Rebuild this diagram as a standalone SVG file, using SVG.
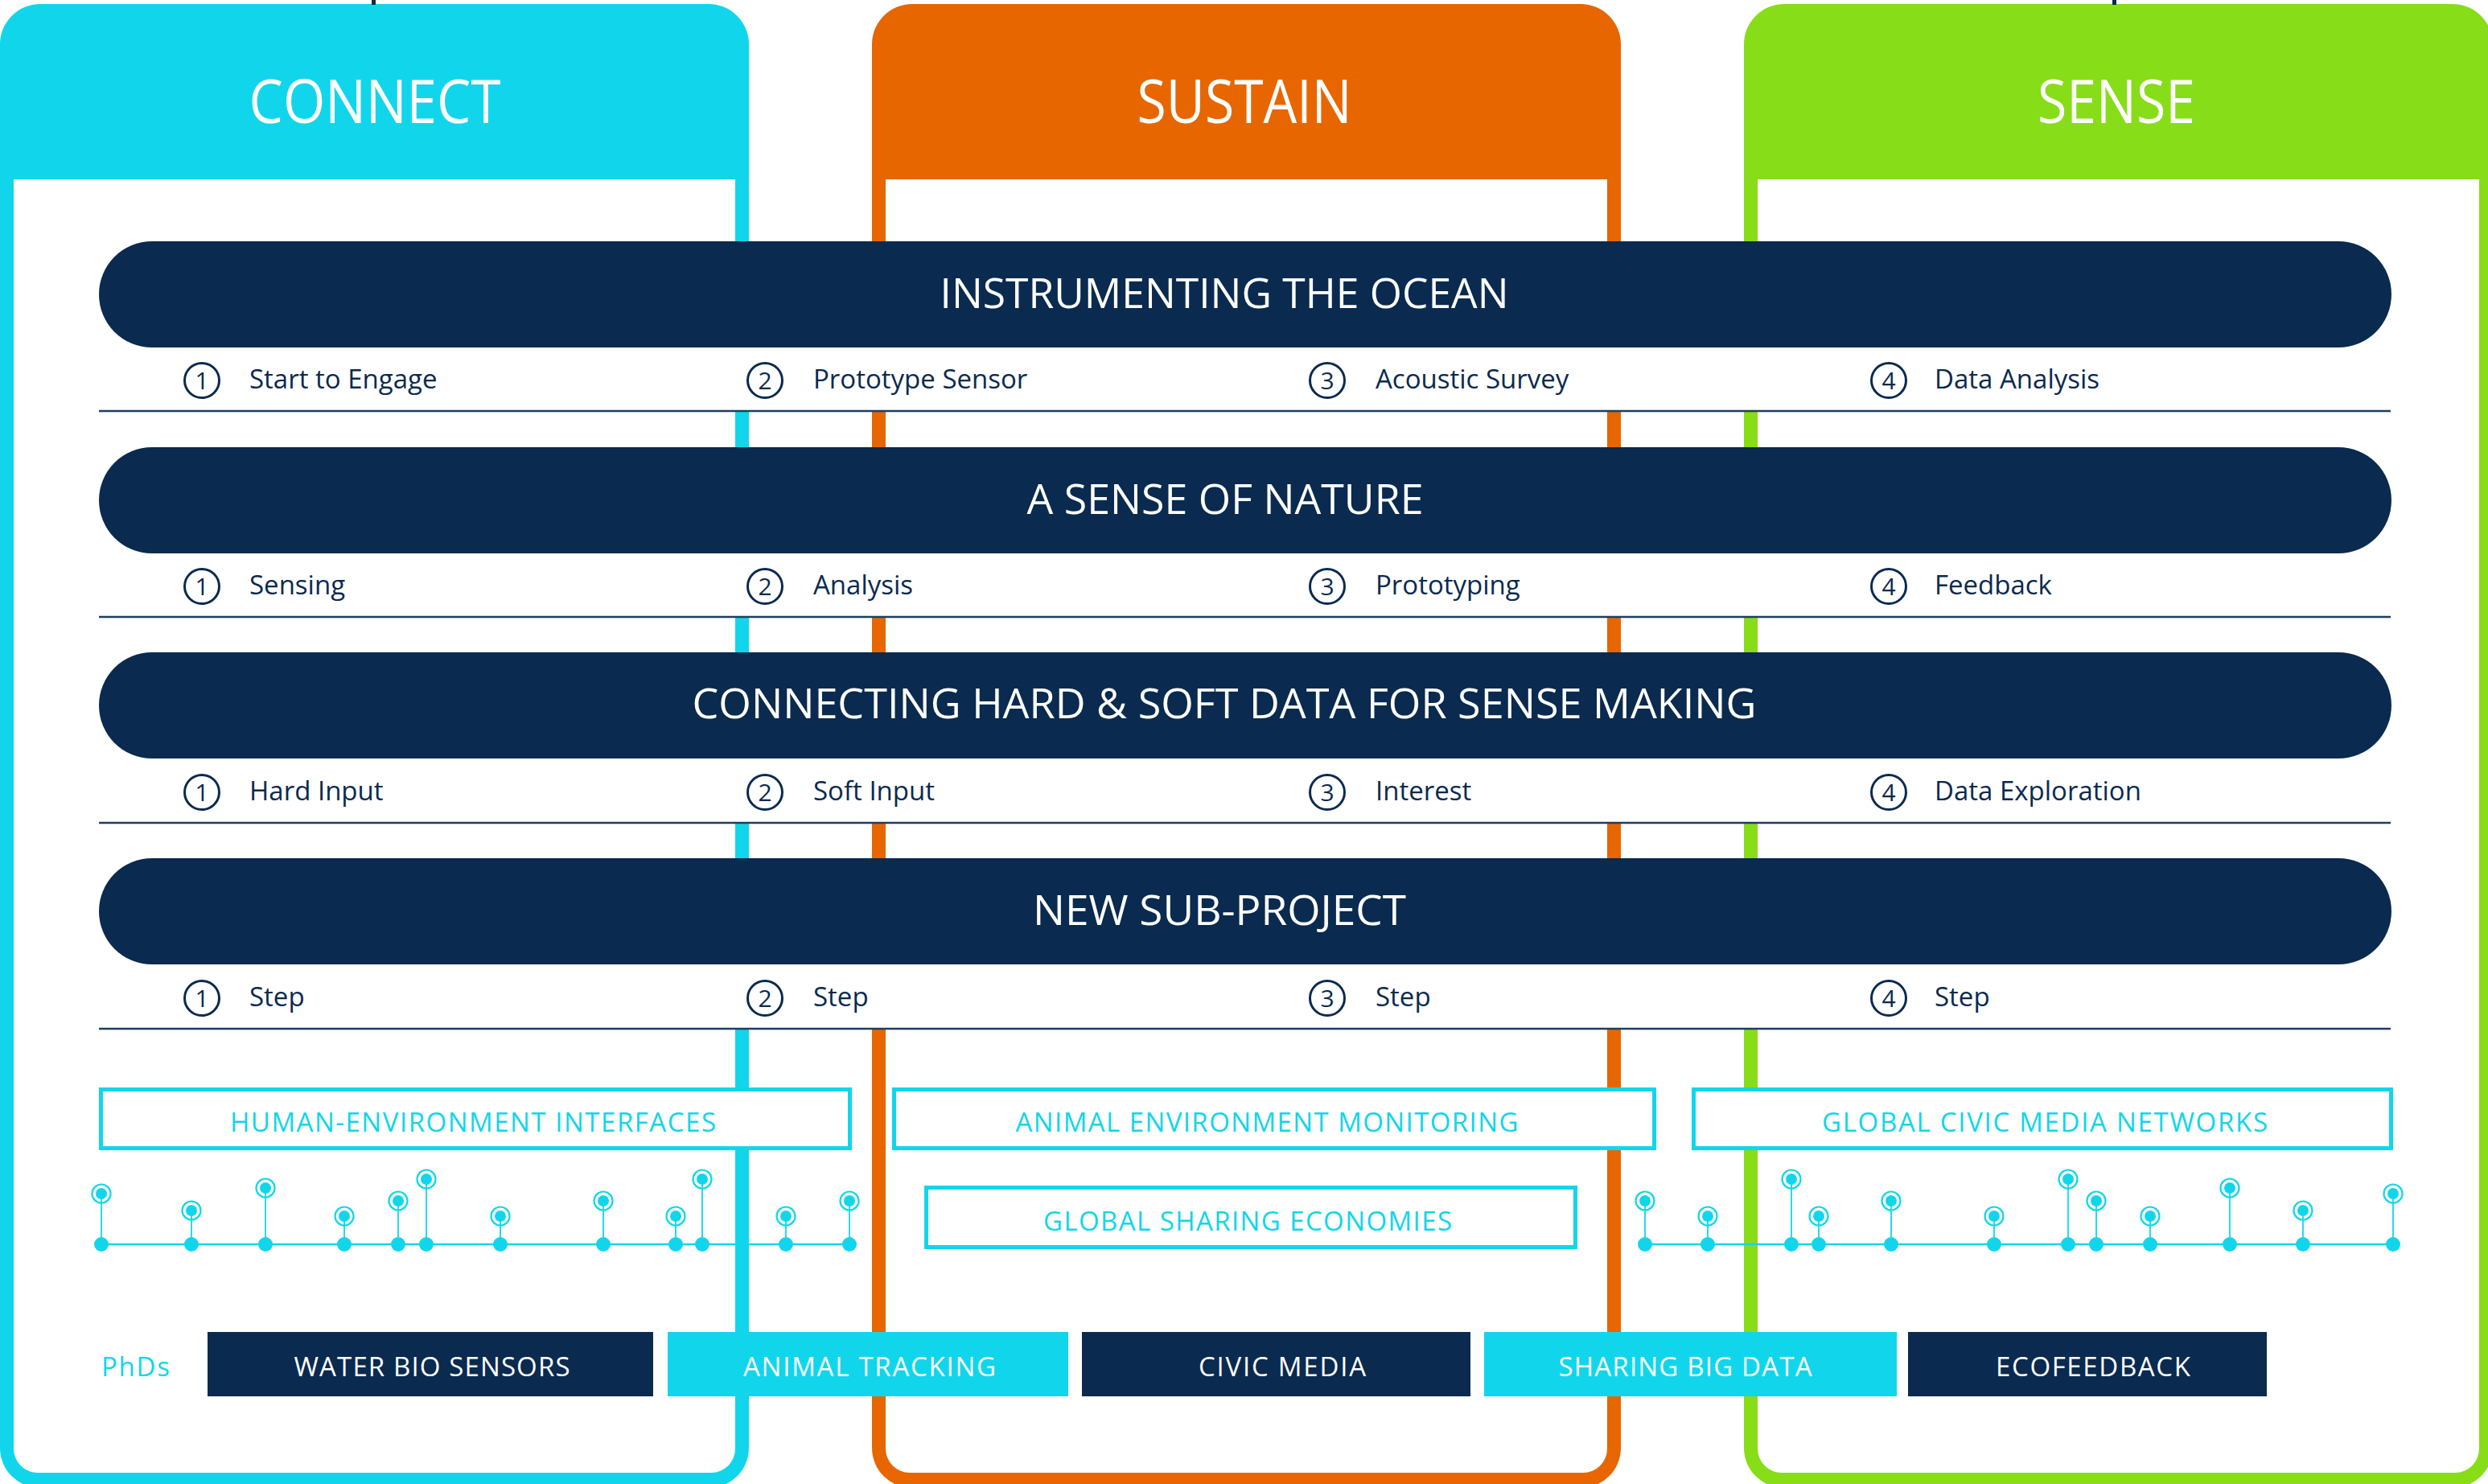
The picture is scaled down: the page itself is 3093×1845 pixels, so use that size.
<svg xmlns="http://www.w3.org/2000/svg" width="3093" height="1845" viewBox="0 0 3093 1845">
<style>
.cyan{fill:#11D6EB}
.orange{fill:#E76600}
.green{fill:#87DD17}
.navy{fill:#0A2A4F}
.white{fill:#FFFFFF}
.hdr{font-family:"Open Sans","Noto Sans",sans-serif;font-size:75px;fill:#FFFFFF;text-anchor:middle}
.pill-t{font-family:"Open Sans","Noto Sans",sans-serif;font-size:52px;fill:#FFFFFF;text-anchor:middle}
.step{font-family:"Open Sans","Noto Sans",sans-serif;font-size:33px;fill:#0A2A4F}
.num{font-family:"Open Sans","Noto Sans",sans-serif;font-size:30px;fill:#0A2A4F;text-anchor:middle}
.ring{fill:none;stroke:#0A2A4F;stroke-width:3}
.uline{stroke:#1E3D60;stroke-width:2.5}
.obox{fill:#FFFFFF;stroke:#11D6EB;stroke-width:5}
.obox-t{font-family:"Open Sans","Noto Sans",sans-serif;font-size:33px;fill:#11D6EB;text-anchor:middle}
.phd-t{font-family:"Open Sans","Noto Sans",sans-serif;font-size:33px;fill:#FFFFFF;text-anchor:middle}
.tl{stroke:#11D6EB;stroke-width:2.5}
.stem{stroke:#11D6EB;stroke-width:1.8}
.dot{fill:#11D6EB}
.tring{fill:none;stroke:#11D6EB;stroke-width:2.2}
</style>

<!-- Columns -->
<g id="col-connect">
  <rect class="cyan" x="0" y="5" width="931" height="1845" rx="50"/>
  <path class="white" d="M17,223 H914 V1801 A30,30 0 0 1 884,1831 H47 A30,30 0 0 1 17,1801 Z"/>
  <text class="hdr" x="466" y="153" textLength="313" lengthAdjust="spacingAndGlyphs">CONNECT</text>
  <rect class="navy" x="462" y="0" width="5" height="6"/>
</g>
<g id="col-sustain">
  <rect class="orange" x="1084" y="5" width="931" height="1845" rx="50"/>
  <path class="white" d="M1101,223 H1998 V1801 A30,30 0 0 1 1968,1831 H1131 A30,30 0 0 1 1101,1801 Z"/>
  <text class="hdr" x="1547" y="153" textLength="267" lengthAdjust="spacingAndGlyphs">SUSTAIN</text>
</g>
<g id="col-sense">
  <rect class="green" x="2168" y="5" width="931" height="1845" rx="50"/>
  <path class="white" d="M2185,223 H3082 V1801 A30,30 0 0 1 3052,1831 H2215 A30,30 0 0 1 2185,1801 Z"/>
  <text class="hdr" x="2631" y="153" textLength="196" lengthAdjust="spacingAndGlyphs">SENSE</text>
  <rect class="navy" x="2626" y="0" width="5" height="6"/>
</g>

<!-- Row 1 -->
<g id="row-instrumenting">
  <rect class="white" x="123" y="366" width="2850" height="145"/>
  <rect class="navy" x="123" y="300" width="2850" height="132" rx="66"/>
  <text class="pill-t" x="1522" y="383" textLength="707" lengthAdjust="spacingAndGlyphs">INSTRUMENTING THE OCEAN</text>
  <circle class="ring" cx="251" cy="473" r="21.5"/><text class="num" x="251" y="484">1</text>
  <text class="step" x="310" y="483">Start to Engage</text>
  <circle class="ring" cx="951" cy="473" r="21.5"/><text class="num" x="951" y="484">2</text>
  <text class="step" x="1011" y="483">Prototype Sensor</text>
  <circle class="ring" cx="1650" cy="473" r="21.5"/><text class="num" x="1650" y="484">3</text>
  <text class="step" x="1710" y="483">Acoustic Survey</text>
  <circle class="ring" cx="2348" cy="473" r="21.5"/><text class="num" x="2348" y="484">4</text>
  <text class="step" x="2405" y="483">Data Analysis</text>
  <line class="uline" x1="123" y1="511" x2="2972" y2="511"/>
</g>

<!-- Row 2 -->
<g id="row-sense-of-nature">
  <rect class="white" x="123" y="622" width="2850" height="145"/>
  <rect class="navy" x="123" y="556" width="2850" height="132" rx="66"/>
  <text class="pill-t" x="1523" y="639" textLength="493" lengthAdjust="spacingAndGlyphs">A SENSE OF NATURE</text>
  <circle class="ring" cx="251" cy="729" r="21.5"/><text class="num" x="251" y="740">1</text>
  <text class="step" x="310" y="739">Sensing</text>
  <circle class="ring" cx="951" cy="729" r="21.5"/><text class="num" x="951" y="740">2</text>
  <text class="step" x="1011" y="739">Analysis</text>
  <circle class="ring" cx="1650" cy="729" r="21.5"/><text class="num" x="1650" y="740">3</text>
  <text class="step" x="1710" y="739">Prototyping</text>
  <circle class="ring" cx="2348" cy="729" r="21.5"/><text class="num" x="2348" y="740">4</text>
  <text class="step" x="2405" y="739">Feedback</text>
  <line class="uline" x1="123" y1="767" x2="2972" y2="767"/>
</g>

<!-- Row 3 -->
<g id="row-hard-soft">
  <rect class="white" x="123" y="877" width="2850" height="146"/>
  <rect class="navy" x="123" y="811" width="2850" height="132" rx="66"/>
  <text class="pill-t" x="1522" y="893" textLength="1323" lengthAdjust="spacingAndGlyphs">CONNECTING HARD &amp; SOFT DATA FOR SENSE MAKING</text>
  <circle class="ring" cx="251" cy="985" r="21.5"/><text class="num" x="251" y="996">1</text>
  <text class="step" x="310" y="995">Hard Input</text>
  <circle class="ring" cx="951" cy="985" r="21.5"/><text class="num" x="951" y="996">2</text>
  <text class="step" x="1011" y="995">Soft Input</text>
  <circle class="ring" cx="1650" cy="985" r="21.5"/><text class="num" x="1650" y="996">3</text>
  <text class="step" x="1710" y="995">Interest</text>
  <circle class="ring" cx="2348" cy="985" r="21.5"/><text class="num" x="2348" y="996">4</text>
  <text class="step" x="2405" y="995">Data Exploration</text>
  <line class="uline" x1="123" y1="1023" x2="2972" y2="1023"/>
</g>

<!-- Row 4 -->
<g id="row-new-sub-project">
  <rect class="white" x="123" y="1133" width="2850" height="146"/>
  <rect class="navy" x="123" y="1067" width="2850" height="132" rx="66"/>
  <text class="pill-t" x="1516" y="1150" textLength="464" lengthAdjust="spacingAndGlyphs">NEW SUB-PROJECT</text>
  <circle class="ring" cx="251" cy="1241" r="21.5"/><text class="num" x="251" y="1252">1</text>
  <text class="step" x="310" y="1251">Step</text>
  <circle class="ring" cx="951" cy="1241" r="21.5"/><text class="num" x="951" y="1252">2</text>
  <text class="step" x="1011" y="1251">Step</text>
  <circle class="ring" cx="1650" cy="1241" r="21.5"/><text class="num" x="1650" y="1252">3</text>
  <text class="step" x="1710" y="1251">Step</text>
  <circle class="ring" cx="2348" cy="1241" r="21.5"/><text class="num" x="2348" y="1252">4</text>
  <text class="step" x="2405" y="1251">Step</text>
  <line class="uline" x1="123" y1="1279" x2="2972" y2="1279"/>
</g>

<!-- Outline boxes -->
<g id="box-human-env">
  <rect class="obox" x="125.5" y="1354.5" width="931" height="73"/>
  <text class="obox-t" x="588" y="1407" textLength="604" lengthAdjust="spacing">HUMAN-ENVIRONMENT INTERFACES</text>
</g>
<g id="box-animal-env">
  <rect class="obox" x="1111.5" y="1354.5" width="945" height="73"/>
  <text class="obox-t" x="1575" y="1407" textLength="625" lengthAdjust="spacing">ANIMAL ENVIRONMENT MONITORING</text>
</g>
<g id="box-global-sharing">
  <rect class="obox" x="1151.5" y="1476.5" width="807" height="74"/>
  <text class="obox-t" x="1551" y="1530" textLength="508" lengthAdjust="spacing">GLOBAL SHARING ECONOMIES</text>
</g>
<g id="box-global-civic">
  <rect class="obox" x="2105.5" y="1354.5" width="867" height="73"/>
  <text class="obox-t" x="2542" y="1407" textLength="554" lengthAdjust="spacing">GLOBAL CIVIC MEDIA NETWORKS</text>
</g>

<!-- Timelines -->
<g id="connectors">
  <line class="tl" x1="126" y1="1547" x2="1056" y2="1547"/>
  <line class="tl" x1="2045" y1="1547" x2="2975" y2="1547"/>
  <g id="stems">
    <line class="stem" x1="126" y1="1484" x2="126" y2="1547"/>
    <line class="stem" x1="238" y1="1505" x2="238" y2="1547"/>
    <line class="stem" x1="330" y1="1477" x2="330" y2="1547"/>
    <line class="stem" x1="428" y1="1512" x2="428" y2="1547"/>
    <line class="stem" x1="495" y1="1493" x2="495" y2="1547"/>
    <line class="stem" x1="530" y1="1466" x2="530" y2="1547"/>
    <line class="stem" x1="622" y1="1512" x2="622" y2="1547"/>
    <line class="stem" x1="750" y1="1493" x2="750" y2="1547"/>
    <line class="stem" x1="840" y1="1512" x2="840" y2="1547"/>
    <line class="stem" x1="873" y1="1466" x2="873" y2="1547"/>
    <line class="stem" x1="977" y1="1512" x2="977" y2="1547"/>
    <line class="stem" x1="1056" y1="1493" x2="1056" y2="1547"/>
    <line class="stem" x1="2045" y1="1493" x2="2045" y2="1547"/>
    <line class="stem" x1="2123" y1="1512" x2="2123" y2="1547"/>
    <line class="stem" x1="2227" y1="1466" x2="2227" y2="1547"/>
    <line class="stem" x1="2261" y1="1512" x2="2261" y2="1547"/>
    <line class="stem" x1="2351" y1="1493" x2="2351" y2="1547"/>
    <line class="stem" x1="2479" y1="1512" x2="2479" y2="1547"/>
    <line class="stem" x1="2571" y1="1466" x2="2571" y2="1547"/>
    <line class="stem" x1="2606" y1="1493" x2="2606" y2="1547"/>
    <line class="stem" x1="2673" y1="1512" x2="2673" y2="1547"/>
    <line class="stem" x1="2772" y1="1477" x2="2772" y2="1547"/>
    <line class="stem" x1="2863" y1="1505" x2="2863" y2="1547"/>
    <line class="stem" x1="2975" y1="1484" x2="2975" y2="1547"/>
  </g>
</g>
<g id="pins-left">
  <circle class="dot" cx="126" cy="1547" r="9"/><circle class="tring" cx="126" cy="1484" r="11.5"/><circle class="dot" cx="126" cy="1484" r="7"/>
  <circle class="dot" cx="238" cy="1547" r="9"/><circle class="tring" cx="238" cy="1505" r="11.5"/><circle class="dot" cx="238" cy="1505" r="7"/>
  <circle class="dot" cx="330" cy="1547" r="9"/><circle class="tring" cx="330" cy="1477" r="11.5"/><circle class="dot" cx="330" cy="1477" r="7"/>
  <circle class="dot" cx="428" cy="1547" r="9"/><circle class="tring" cx="428" cy="1512" r="11.5"/><circle class="dot" cx="428" cy="1512" r="7"/>
  <circle class="dot" cx="495" cy="1547" r="9"/><circle class="tring" cx="495" cy="1493" r="11.5"/><circle class="dot" cx="495" cy="1493" r="7"/>
  <circle class="dot" cx="530" cy="1547" r="9"/><circle class="tring" cx="530" cy="1466" r="11.5"/><circle class="dot" cx="530" cy="1466" r="7"/>
  <circle class="dot" cx="622" cy="1547" r="9"/><circle class="tring" cx="622" cy="1512" r="11.5"/><circle class="dot" cx="622" cy="1512" r="7"/>
  <circle class="dot" cx="750" cy="1547" r="9"/><circle class="tring" cx="750" cy="1493" r="11.5"/><circle class="dot" cx="750" cy="1493" r="7"/>
  <circle class="dot" cx="840" cy="1547" r="9"/><circle class="tring" cx="840" cy="1512" r="11.5"/><circle class="dot" cx="840" cy="1512" r="7"/>
  <circle class="dot" cx="873" cy="1547" r="9"/><circle class="tring" cx="873" cy="1466" r="11.5"/><circle class="dot" cx="873" cy="1466" r="7"/>
  <circle class="dot" cx="977" cy="1547" r="9"/><circle class="tring" cx="977" cy="1512" r="11.5"/><circle class="dot" cx="977" cy="1512" r="7"/>
  <circle class="dot" cx="1056" cy="1547" r="9"/><circle class="tring" cx="1056" cy="1493" r="11.5"/><circle class="dot" cx="1056" cy="1493" r="7"/>
</g>
<g id="pins-right">
  <circle class="dot" cx="2045" cy="1547" r="9"/><circle class="tring" cx="2045" cy="1493" r="11.5"/><circle class="dot" cx="2045" cy="1493" r="7"/>
  <circle class="dot" cx="2123" cy="1547" r="9"/><circle class="tring" cx="2123" cy="1512" r="11.5"/><circle class="dot" cx="2123" cy="1512" r="7"/>
  <circle class="dot" cx="2227" cy="1547" r="9"/><circle class="tring" cx="2227" cy="1466" r="11.5"/><circle class="dot" cx="2227" cy="1466" r="7"/>
  <circle class="dot" cx="2261" cy="1547" r="9"/><circle class="tring" cx="2261" cy="1512" r="11.5"/><circle class="dot" cx="2261" cy="1512" r="7"/>
  <circle class="dot" cx="2351" cy="1547" r="9"/><circle class="tring" cx="2351" cy="1493" r="11.5"/><circle class="dot" cx="2351" cy="1493" r="7"/>
  <circle class="dot" cx="2479" cy="1547" r="9"/><circle class="tring" cx="2479" cy="1512" r="11.5"/><circle class="dot" cx="2479" cy="1512" r="7"/>
  <circle class="dot" cx="2571" cy="1547" r="9"/><circle class="tring" cx="2571" cy="1466" r="11.5"/><circle class="dot" cx="2571" cy="1466" r="7"/>
  <circle class="dot" cx="2606" cy="1547" r="9"/><circle class="tring" cx="2606" cy="1493" r="11.5"/><circle class="dot" cx="2606" cy="1493" r="7"/>
  <circle class="dot" cx="2673" cy="1547" r="9"/><circle class="tring" cx="2673" cy="1512" r="11.5"/><circle class="dot" cx="2673" cy="1512" r="7"/>
  <circle class="dot" cx="2772" cy="1547" r="9"/><circle class="tring" cx="2772" cy="1477" r="11.5"/><circle class="dot" cx="2772" cy="1477" r="7"/>
  <circle class="dot" cx="2863" cy="1547" r="9"/><circle class="tring" cx="2863" cy="1505" r="11.5"/><circle class="dot" cx="2863" cy="1505" r="7"/>
  <circle class="dot" cx="2975" cy="1547" r="9"/><circle class="tring" cx="2975" cy="1484" r="11.5"/><circle class="dot" cx="2975" cy="1484" r="7"/>
</g>

<!-- PhDs -->
<g id="phds-label">
  <text x="126" y="1711" font-family="'Open Sans','Noto Sans',sans-serif" font-size="33" fill="#11D6EB" textLength="85" lengthAdjust="spacing">PhDs</text>
</g>
<g id="phd-water-bio">
  <rect class="navy" x="258" y="1656" width="554" height="80"/>
  <text class="phd-t" x="537" y="1711" textLength="343" lengthAdjust="spacing">WATER BIO SENSORS</text>
</g>
<g id="phd-animal-tracking">
  <rect class="cyan" x="830" y="1656" width="498" height="80"/>
  <text class="phd-t" x="1081" y="1711" textLength="314" lengthAdjust="spacing">ANIMAL TRACKING</text>
</g>
<g id="phd-civic-media">
  <rect class="navy" x="1345" y="1656" width="483" height="80"/>
  <text class="phd-t" x="1594" y="1711" textLength="208" lengthAdjust="spacing">CIVIC MEDIA</text>
</g>
<g id="phd-sharing-big-data">
  <rect class="cyan" x="1845" y="1656" width="513" height="80"/>
  <text class="phd-t" x="2095" y="1711" textLength="315" lengthAdjust="spacing">SHARING BIG DATA</text>
</g>
<g id="phd-ecofeedback">
  <rect class="navy" x="2372" y="1656" width="446" height="80"/>
  <text class="phd-t" x="2602" y="1711" textLength="242" lengthAdjust="spacing">ECOFEEDBACK</text>
</g>
</svg>
